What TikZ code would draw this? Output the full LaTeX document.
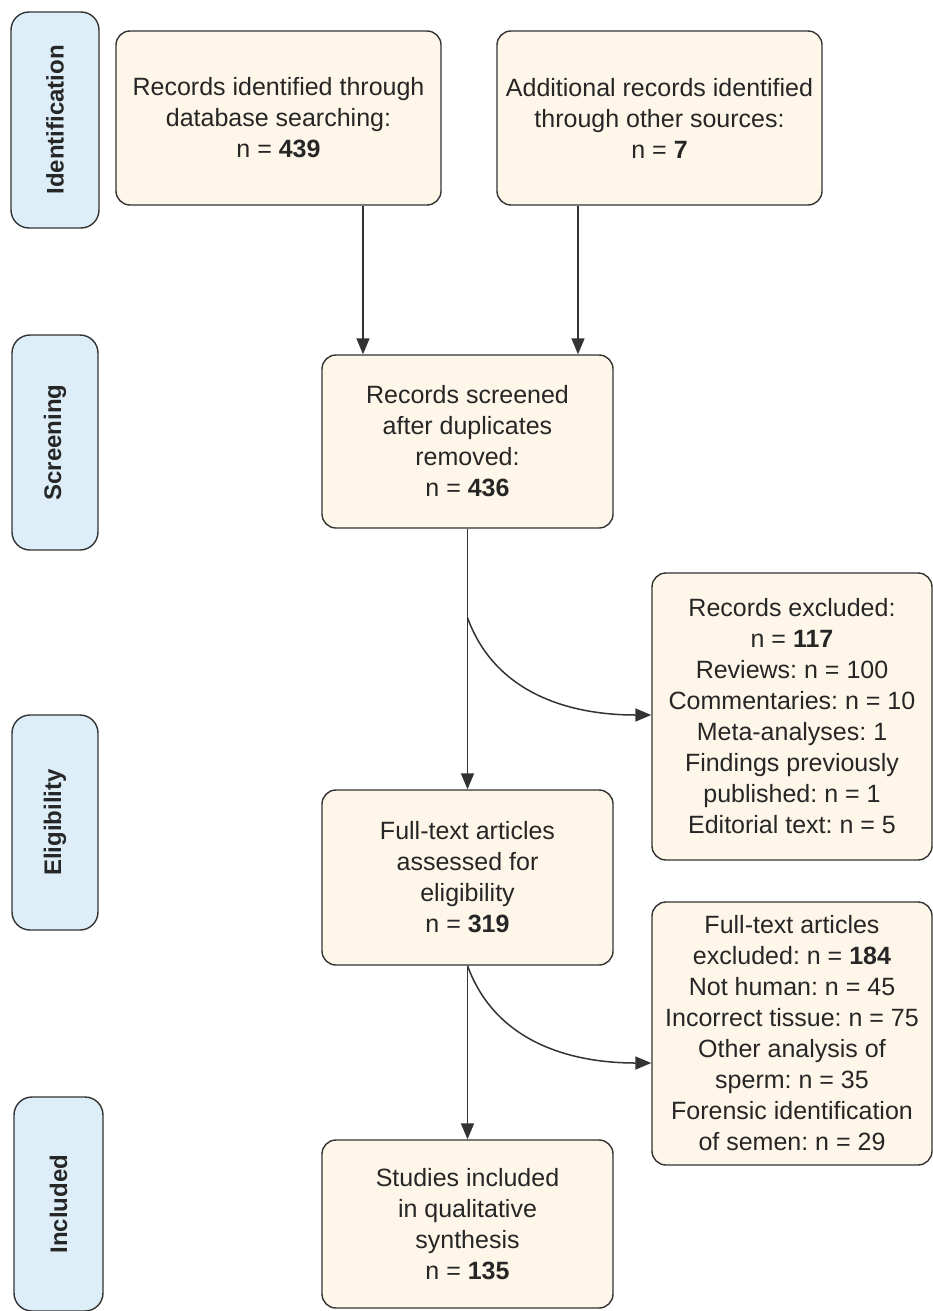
\documentclass[tikz,border=0pt]{standalone}
\usepackage{fontspec}
\setmainfont{Liberation Sans}
\usetikzlibrary{arrows.meta,calc}
\definecolor{boxfill}{HTML}{FDF6E9}
\definecolor{tabfill}{HTML}{DDEEF9}
\definecolor{edge}{HTML}{333333}
\definecolor{txt}{HTML}{262626}
\frenchspacing
\begin{document}
\begin{tikzpicture}[x=1pt,y=-1pt,
  box/.style={draw=edge, fill=boxfill, line width=1.4pt, rounded corners=14pt, align=center, inner sep=0pt, text=txt, font=\frenchspacing\fontsize{25}{31}\selectfont},
  tab/.style={draw=edge, fill=tabfill, line width=1.4pt, rounded corners=18pt, inner sep=0pt, text=txt, font=\bfseries\fontsize{24}{29}\selectfont},
  arr/.style={draw=edge, line width=1.5pt, -{Triangle[length=16pt,width=13pt]}}]
\fill[white] (0,0) rectangle (933,1311);
\useasboundingbox (0,0) rectangle (933,1311);
% phase tabs
\node[tab, rotate=90, minimum width=216pt, minimum height=88pt] (tid) at (55,120) {Identification};
\node[tab, rotate=90, minimum width=215pt, minimum height=86pt] (tsc) at (55,442.5) {Screening};
\node[tab, rotate=90, minimum width=215pt, minimum height=86pt] (tel) at (55,822.5) {Eligibility};
\node[tab, rotate=90, minimum width=214pt, minimum height=89pt] (tin) at (58.5,1204) {Included};
% boxes
\node[box, minimum width=325pt, minimum height=174pt] (db) at (278.5,118) {Records identified through\\database searching:\\n = \textbf{439}};
\node[box, minimum width=325pt, minimum height=174pt] (oth) at (659.5,118) {Additional records identified\\through other sources:\\n = \textbf{7}};
\node[box, minimum width=291pt, minimum height=173pt] (scr) at (467.5,441.5) {Records screened\\after duplicates\\removed:\\n = \textbf{436}};
\node[box, minimum width=280pt, minimum height=287pt] (ex1) at (792,716.5) {Records excluded:\\n = \textbf{117}\\Reviews: n = 100\\Commentaries: n = 10\\Meta-analyses: 1\\Findings previously\\published: n = 1\\Editorial text: n = 5};
\node[box, minimum width=291pt, minimum height=175pt] (elg) at (467.5,877.5) {Full-text articles\\assessed for\\eligibility\\n = \textbf{319}};
\node[box, minimum width=280pt, minimum height=263pt] (ex2) at (792,1033.5) {Full-text articles\\excluded: n = \textbf{184}\\Not human: n = 45\\Incorrect tissue: n = 75\\Other analysis of\\sperm: n = 35\\Forensic identification\\of semen: n = 29};
\node[box, minimum width=291pt, minimum height=168pt] (inc) at (467.5,1224) {Studies included\\in qualitative\\synthesis\\n = \textbf{135}};
% connectors
\draw[arr] ([xshift=84.5pt]db.south) -- ([xshift=84.5pt]db.south |- scr.north);
\draw[arr] ([xshift=-81.5pt]oth.south) -- ([xshift=-81.5pt]oth.south |- scr.north);
\draw[arr] (scr.south) -- (elg.north);
\coordinate (c1) at ($(scr.south)+(0,89)$);
\draw[arr] (c1) to[out=-70,in=180] ([yshift=1.5pt]ex1.west);
\draw[arr] (elg.south) -- (inc.north);
\draw[arr] (elg.south) to[out=-70,in=180] ([yshift=-29.5pt]ex2.west);
\end{tikzpicture}
\end{document}
